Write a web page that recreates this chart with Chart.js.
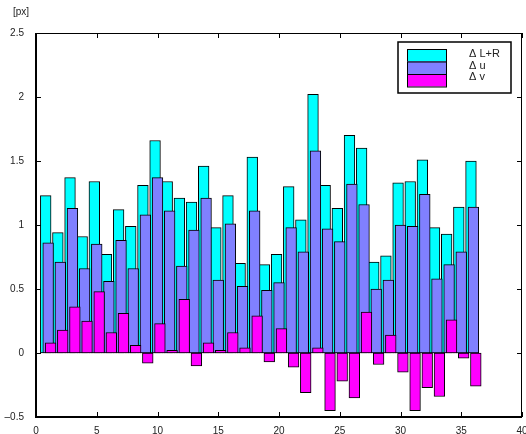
<!DOCTYPE html>
<html>
<head>
<meta charset="utf-8">
<script src="https://cdn.jsdelivr.net/npm/chart.js@4.4.1/dist/chart.umd.min.js"></script>
<style>
  body { margin: 0; background: #fff; }
  canvas { display: block; }
</style>
</head>
<body>
<canvas id="myChart" width="526" height="434"></canvas>
<script>
// bar positions 1..36
var frames = [];
for (var k = 1; k <= 36; k++) frames.push(k);

var dLR = [1.23, 0.94, 1.37, 0.91, 1.34, 0.77, 1.12, 0.99, 1.31, 1.66,
           1.34, 1.21, 1.18, 1.46, 0.98, 1.23, 0.70, 1.53, 0.69, 0.77,
           1.30, 1.04, 2.02, 1.31, 1.13, 1.70, 1.60, 0.71, 0.76, 1.33,
           1.34, 1.51, 0.98, 0.93, 1.14, 1.50];
var dU  = [0.86, 0.71, 1.13, 0.66, 0.85, 0.56, 0.88, 0.66, 1.08, 1.37,
           1.11, 0.68, 0.96, 1.21, 0.57, 1.01, 0.52, 1.11, 0.49, 0.55,
           0.98, 0.79, 1.58, 0.97, 0.87, 1.32, 1.16, 0.50, 0.57, 1.00,
           0.99, 1.24, 0.58, 0.69, 0.79, 1.14];
var dV  = [0.08, 0.18, 0.36, 0.25, 0.48, 0.16, 0.31, 0.06, -0.08, 0.23,
           0.02, 0.42, -0.10, 0.08, 0.02, 0.16, 0.04, 0.29, -0.07, 0.19,
           -0.11, -0.31, 0.04, -0.45, -0.22, -0.35, 0.32, -0.09, 0.14, -0.15,
           -0.45, -0.27, -0.34, 0.26, -0.04, -0.26];

var yTicks = [-0.5, 0, 0.5, 1, 1.5, 2, 2.5];
var xTicks = [0, 5, 10, 15, 20, 25, 30, 35, 40];
var seriesNames = ["\u0394 L+R", "\u0394 u", "\u0394 v"];
var colors = ["#00ffff", "#8080ff", "#ff00ff"];

function pts(vals, shift) {
    return vals.map(function (v, i) { return { x: frames[i] + shift, y: v }; });
}

function fmt(v) {
    var s = String(Math.abs(v));
    return v < 0 ? "\u2013" + s : s;
}

var FONT = "Liberation Sans, Arial, sans-serif";

var framePlugin = {
    id: "frame",
    afterDraw: function (chart) {
        var ctx = chart.ctx, a = chart.chartArea;
        var xs = chart.scales.x, ys = chart.scales.y;
        ctx.save();
        ctx.strokeStyle = "#000";
        ctx.lineWidth = 1;
        ctx.strokeRect(a.left + 0.5, a.top + 0.5, a.right - a.left - 1, a.bottom - a.top - 1);
        ctx.lineWidth = 2;
        ctx.beginPath();
        ctx.moveTo(a.left, a.top);
        ctx.lineTo(a.left, a.bottom);
        ctx.lineTo(a.right, a.bottom);
        ctx.stroke();
        ctx.lineWidth = 1;
        ctx.beginPath();
        xTicks.forEach(function (t) {
            var p = Math.round(xs.getPixelForValue(t)) + 0.5;
            ctx.moveTo(p, a.bottom); ctx.lineTo(p, a.bottom - 5);
            ctx.moveTo(p, a.top); ctx.lineTo(p, a.top + 5);
        });
        yTicks.forEach(function (t) {
            var p = Math.round(ys.getPixelForValue(t)) + 0.5;
            ctx.moveTo(a.left, p); ctx.lineTo(a.left + 5, p);
            ctx.moveTo(a.right, p); ctx.lineTo(a.right - 5, p);
        });
        ctx.stroke();

        ctx.fillStyle = "#222";
        ctx.font = "10px " + FONT;
        ctx.textAlign = "left";
        ctx.textBaseline = "alphabetic";
        ctx.fillText("[px]", 13, 15);

        // legend
        var bx = 398, by = 42, bw = 113, bh = 51;
        ctx.fillStyle = "#fff";
        ctx.fillRect(bx, by, bw, bh);
        ctx.lineWidth = 1.5;
        ctx.strokeStyle = "#000";
        ctx.strokeRect(bx, by, bw, bh);
        var rowTop = [49, 61.5, 74];
        var base = [57, 69, 79.5];
        ctx.lineWidth = 1;
        for (var i = 0; i < 3; i++) {
            ctx.fillStyle = colors[i];
            ctx.fillRect(407, rowTop[i], 39, 12.5);
            ctx.strokeRect(407.5, rowTop[i] + 0.5, 39, 12.5);
            ctx.fillStyle = "#222";
            ctx.font = "11px " + FONT;
            ctx.fillText(seriesNames[i], 469, base[i]);
        }
        ctx.restore();
    }
};

var common = {
    borderColor: "#000",
    borderWidth: 1,
    borderSkipped: false,
    grouped: false,
    barThickness: 10.7
};

new Chart("myChart", {
    type: "bar",
    data: {
        datasets: [
            Object.assign({ label: seriesNames[0], data: pts(dLR, -0.2), backgroundColor: colors[0], order: 3 }, common),
            Object.assign({ label: seriesNames[1], data: pts(dU, 0), backgroundColor: colors[1], order: 2 }, common),
            Object.assign({ label: seriesNames[2], data: pts(dV, 0.2), backgroundColor: colors[2], order: 1 }, common)
        ]
    },
    options: {
        responsive: false,
        animation: false,
        devicePixelRatio: 1,
        layout: { padding: { top: 33, right: 4, left: 0, bottom: 0 } },
        plugins: { legend: { display: false }, tooltip: { enabled: false } },
        scales: {
            x: {
                type: "linear",
                offset: false,
                min: 0, max: 40,
                grid: { display: false, offset: false },
                border: { display: false },
                ticks: {
                    stepSize: 5, color: "#222", padding: 0, maxRotation: 0,
                    font: { family: FONT, size: 10 }
                },
                afterFit: function (s) { s.height = 17; s.paddingLeft = 0; s.paddingRight = 0; }
            },
            y: {
                min: -0.5, max: 2.5,
                grid: { display: false },
                border: { display: false },
                ticks: {
                    stepSize: 0.5, color: "#222", padding: 4,
                    font: { family: FONT, size: 10 },
                    callback: function (v) { return fmt(v); }
                },
                afterFit: function (s) { s.width = 36; s.paddingTop = 0; s.paddingBottom = 0; }
            }
        }
    },
    plugins: [framePlugin]
});
</script>
</body>
</html>
